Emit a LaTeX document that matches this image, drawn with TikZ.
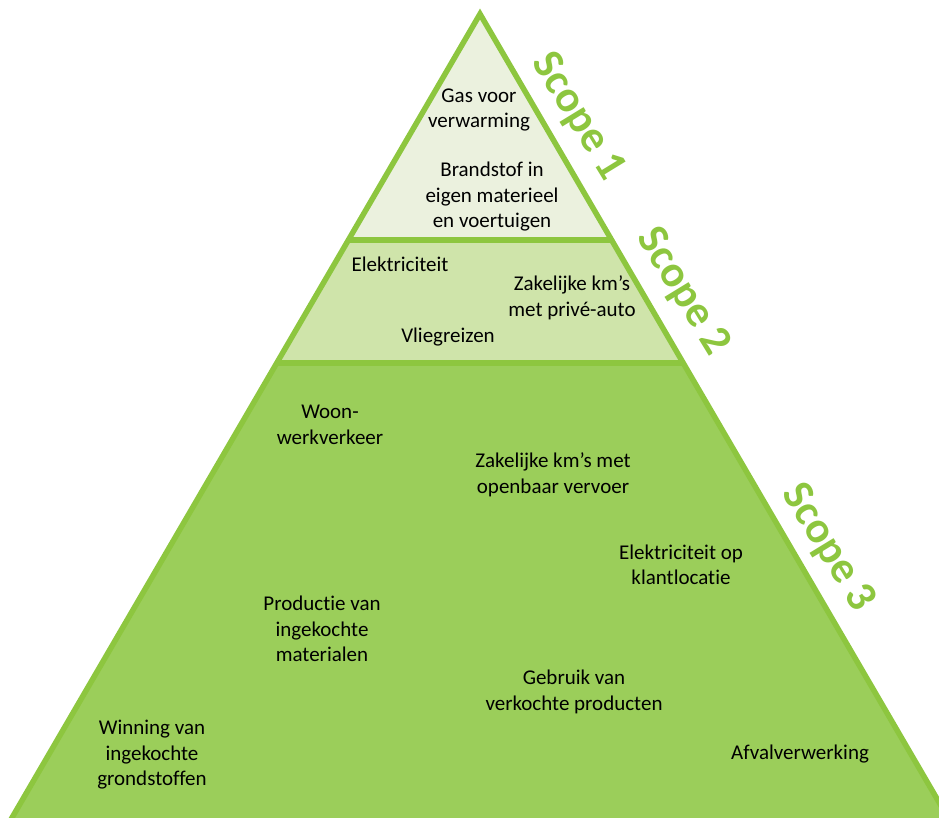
\documentclass[tikz,border=0pt]{standalone}
\usepackage{fontspec}
\setmainfont[Ligatures=NoCommon]{Carlito}
\definecolor{edgegreen}{RGB}{141,198,63}
\definecolor{topfill}{RGB}{235,241,222}
\definecolor{midfill}{RGB}{207,228,170}
\definecolor{lowfill}{RGB}{155,206,90}
\tikzset{
  lbl/.style={align=center, inner sep=0pt, font=\fontsize{21}{25.5}\selectfont, text=black},
  scopelbl/.style={inner sep=0pt, rotate=-58.5, font=\fontsize{44}{50}\selectfont\bfseries, text=edgegreen},
  tier/.style={draw=edgegreen, line width=5.5pt, line join=miter}
}
\begin{document}
\begin{tikzpicture}[x=1pt,y=-1pt]
\useasboundingbox (0,0) rectangle (939,818);
\clip (0,0) rectangle (939,818);
% tiers
\coordinate (apex) at (480,14);
\coordinate (l1) at (348.5,240);
\coordinate (r1) at (611.5,240);
\coordinate (l2) at (277,363);
\coordinate (r2) at (683,363);
\coordinate (l3) at (6,828);
\coordinate (r3) at (954,828);
\fill[lowfill] (l2) -- (r2) -- (r3) -- (l3) -- cycle;
\fill[midfill] (l1) -- (r1) -- (r2) -- (l2) -- cycle;
\fill[topfill] (apex) -- (r1) -- (l1) -- cycle;
\draw[tier] (l3) -- (apex) -- (r3);
\draw[tier] (l1) -- (r1);
\draw[tier] (l2) -- (r2);
% scope labels
\node[scopelbl] (s1) at (578,117) {Scope 1};
\node[scopelbl] (s2) at (683,292) {Scope 2};
\node[scopelbl] (s3) at (828,548) {Scope 3};
% texts
\node[lbl] (gas) at (479,110) {Gas voor\\verwarming};
\node[lbl] (brand) at (492,197) {Brandstof in\\eigen materieel\\en voertuigen};
\node[lbl] (elek) at (400,264) {Elektriciteit};
\node[lbl] (zakauto) at (572,298) {Zakelijke km’s\\met privé-auto};
\node[lbl] (vlieg) at (448,337) {Vliegreizen};
\node[lbl] (woon) at (330,425) {Woon-\\werkverkeer};
\node[lbl] (zakov) at (553,475) {Zakelijke km’s met\\openbaar vervoer};
\node[lbl] (elekop) at (681,565) {Elektriciteit op\\klantlocatie};
\node[lbl] (prod) at (322,629) {Productie van\\ingekochte\\materialen};
\node[lbl] (gebr) at (574,692) {Gebruik van\\verkochte producten};
\node[lbl] (winn) at (152,755) {Winning van\\ingekochte\\grondstoffen};
\node[lbl] (afval) at (800,754) {Afvalverwerking};
\end{tikzpicture}
\end{document}
